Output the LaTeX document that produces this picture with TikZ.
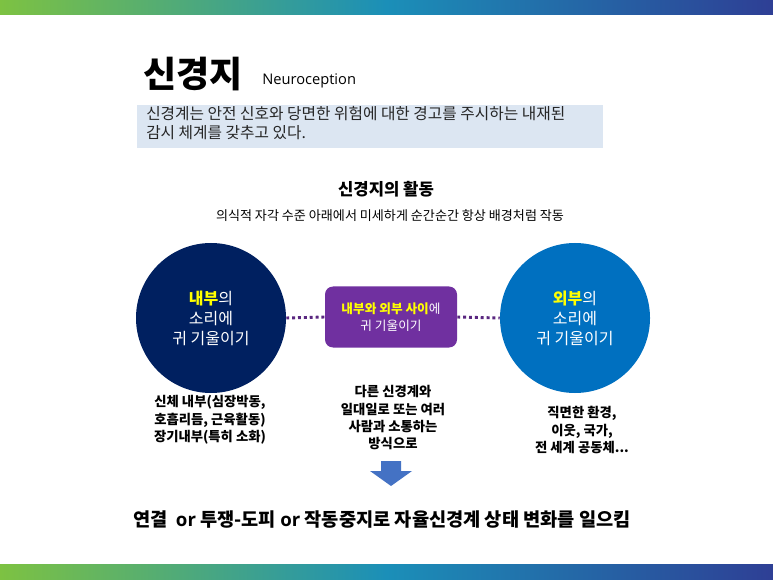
\documentclass[tikz,border=0pt]{standalone}
\usepackage{fontspec}
\setmainfont{Noto Sans CJK KR}
\newfontfamily\lat{Open Sans}
\definecolor{gA}{HTML}{7DC242}
\definecolor{gB}{HTML}{1B8FB8}
\definecolor{gC}{HTML}{2E3F95}
\definecolor{navy}{HTML}{002060}
\definecolor{sky}{HTML}{0070C0}
\definecolor{purp}{HTML}{7030A0}
\definecolor{hl}{HTML}{DCE6F2}
\definecolor{yel}{HTML}{FFFF00}
\definecolor{arr}{HTML}{4472C4}
\tikzset{circ/.style={circle,minimum size=150pt*0.75,inner sep=0,text=white,align=center,font=\fontsize{12}{15}\selectfont},
 lbl/.style={align=center,font=\fontsize{10}{13}\selectfont\bfseries},
 dots/.style={purp!80!black,line width=2.2pt,dash pattern=on 2.2pt off 2.2pt}}
\begin{document}
\begin{tikzpicture}[x=0.75pt,y=-0.75pt]
\useasboundingbox (0,0) rectangle (773,580);
\fill[white] (0,0) rectangle (773,580);
\shade[left color=gA,right color=gC,middle color=gB] (0,0) rectangle (773,15);
\shade[left color=gA,right color=gC,middle color=gB] (0,564) rectangle (773,580);
\node[anchor=base west,inner sep=0,font=\fontsize{27}{30}\selectfont\bfseries] (t) at (143,88) {신경지};
\node[anchor=base west,inner sep=0,font=\lat\fontsize{11}{13}\selectfont] (t2) at (262,85) {Neuroception};
\fill[hl] (137,105) rectangle (603,148);
\node[anchor=north west,align=left,inner sep=0,font=\fontsize{11.8}{14.5}\selectfont,text=black!85] (d) at (146,106) {신경계는 안전 신호와 당면한 위험에 대한 경고를 주시하는 내재된\\감시 체계를 갖추고 있다.};
\node[font=\fontsize{12.5}{15}\selectfont\bfseries] (h) at (386,189) {신경지의 활동};
\node[font=\fontsize{9.8}{12}\selectfont] (s) at (390,216) {의식적 자각 수준 아래에서 미세하게 순간순간 항상 배경처럼 작동};
\node[circ,fill=navy] (L) at (211,318) {\textcolor{yel}{\bfseries 내부}의\\소리에\\귀 기울이기};
\node[circ,fill=sky] (R) at (575,318) {\textcolor{yel}{\bfseries 외부}의\\소리에\\귀 기울이기};
\node[fill=purp,rounded corners=6pt,minimum width=132*0.75pt,minimum height=61*0.75pt,text=white,align=center,font=\fontsize{9.5}{13}\selectfont] (M) at (391,317) {\textcolor{yel}{\bfseries 내부와 외부 사이}에\\귀 기울이기};
\draw[dots] (L.east) -- (M.west);
\draw[dots] (M.east) -- (R.west);
\node[lbl] (l1) at (210,420) {신체 내부(심장박동,\\호흡리듬, 근육활동)\\장기내부(특히 소화)};
\node[lbl] (l2) at (393,418) {다른 신경계와\\일대일로 또는 여러\\사람과 소통하는\\방식으로};
\node[lbl] (l3) at (582,430) {직면한 환경,\\이웃, 국가,\\전 세계 공동체...};
\fill[arr] (381,461) -- (401,461) -- (401,471) -- (412,471) -- (391,486) -- (370,471) -- (381,471) -- cycle;
\node[font=\fontsize{14}{16}\selectfont\bfseries] (b) at (382,520) {연결\ \ {\lat or} 투쟁-도피 {\lat or} 작동중지로 자율신경계 상태 변화를 일으킴};
\end{tikzpicture}
\end{document}
